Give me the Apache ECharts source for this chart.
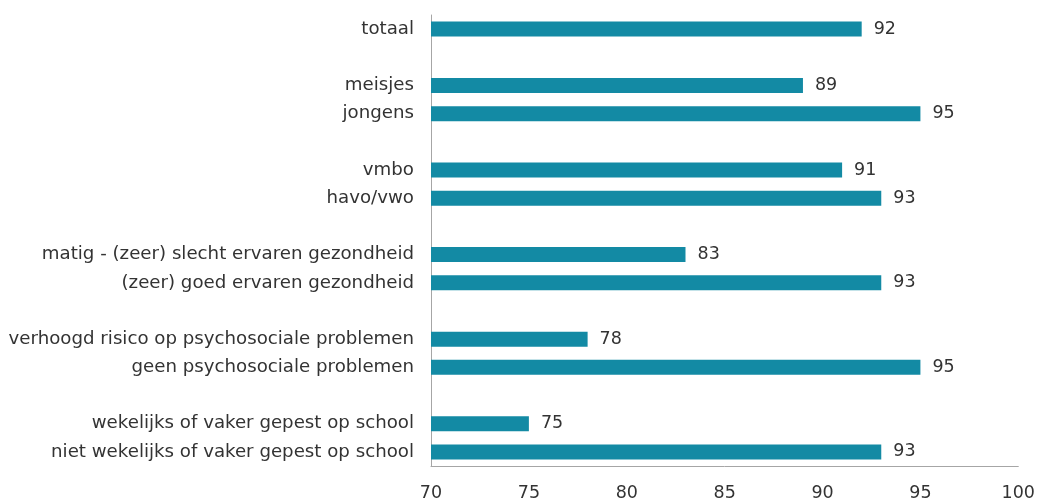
<!DOCTYPE html>
<html>
<head>
<meta charset="utf-8">
<script src="https://cdn.jsdelivr.net/npm/echarts@6/dist/echarts.min.js"></script>
<style>
html,body{margin:0;padding:0;background:#fff;}
#chart{width:1038px;height:502px;}
</style>
</head>
<body>
<div id="chart"></div>
<script>
// Categories top-to-bottom; empty strings are spacer rows
var categories = [
  "totaal", "",
  "meisjes", "jongens", " ",
  "vmbo", "havo/vwo", "  ",
  "matig - (zeer) slecht ervaren gezondheid", "(zeer) goed ervaren gezondheid", "   ",
  "verhoogd risico op psychosociale problemen", "geen psychosociale problemen", "    ",
  "wekelijks of vaker gepest op school", "niet wekelijks of vaker gepest op school"
];
var values = [
  92, null,
  89, 95, null,
  91, 93, null,
  83, 93, null,
  78, 95, null,
  75, 93
];
var xTicks = [70, 75, 80, 85, 90, 95, 100];

var chart = echarts.init(document.getElementById('chart'), null, {renderer: 'canvas'});
var font = "'DejaVu Sans', Verdana, sans-serif";
chart.setOption({
  animation: false,
  backgroundColor: '#ffffff',
  grid: {left: 431, right: 18, top: 15, bottom: 30.5, containLabel: false},
  xAxis: {
    type: 'value',
    min: xTicks[0],
    max: xTicks[xTicks.length - 1],
    interval: 5,
    axisLine: {show: true, lineStyle: {color: '#a6a6a6', width: 1}},
    axisTick: {show: false},
    splitLine: {show: false},
    axisLabel: {color: '#333333', fontSize: 17.5, fontFamily: font, margin: 18}
  },
  yAxis: {
    type: 'category',
    data: categories,
    inverse: true,
    axisLine: {show: true, lineStyle: {color: '#a6a6a6', width: 1}},
    axisTick: {show: false},
    axisLabel: {color: '#333333', fontSize: 18.2, fontFamily: font, margin: 17}
  },
  series: [{
    type: 'bar',
    data: values,
    barWidth: 15,
    itemStyle: {color: '#138aa4'},
    label: {
      show: true,
      position: 'right',
      distance: 12,
      color: '#333333',
      fontSize: 17.5,
      fontFamily: font
    }
  }]
});
</script>
</body>
</html>
